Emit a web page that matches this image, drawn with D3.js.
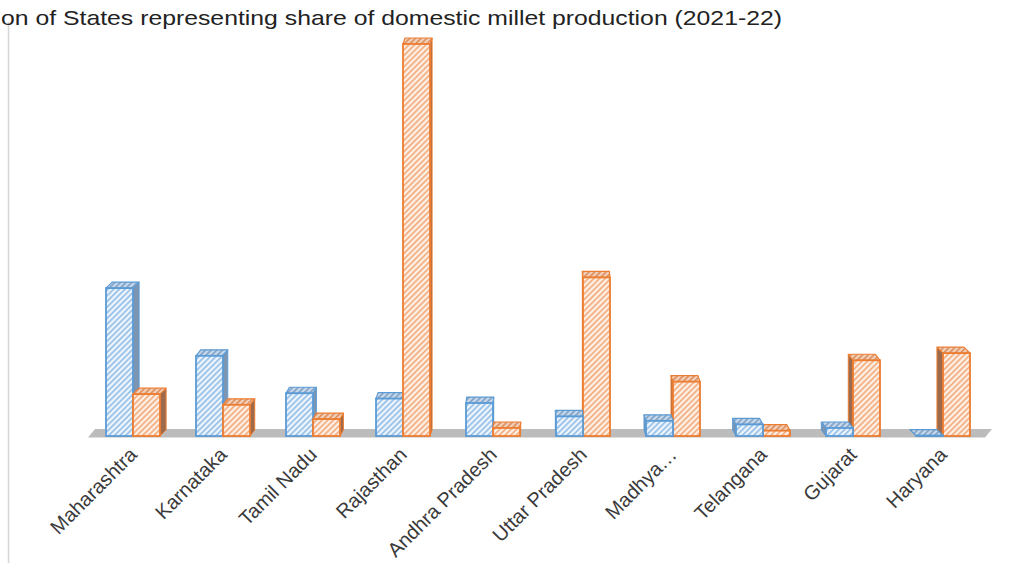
<!DOCTYPE html>
<html>
<head>
<meta charset="utf-8">
<script src="https://cdn.jsdelivr.net/npm/d3@7"></script>
<style>
  body { margin: 0; background: #fff; }
  svg { display: block; }
  .lbl { font-family: "Liberation Sans", Arial, sans-serif; font-size: 20px; fill: #3a3a3a; }
  .title { font-family: "Liberation Sans", Arial, sans-serif; font-size: 21px; fill: #222; }
</style>
</head>
<body>
<div id="chart"></div>
<script>
// share of domestic millet production (%)
const states = ["Maharashtra", "Karnataka", "Tamil Nadu", "Rajasthan", "Andhra Pradesh",
    "Uttar Pradesh", "Madhya…", "Telangana", "Gujarat", "Haryana"];
const seriesBlue = [16.6, 9.0, 4.8, 4.2, 3.7, 2.2, 1.7, 1.3, 0.9, 0.05];
const seriesOrange = [4.7, 3.5, 1.9, 44, 0.9, 17.8, 6.1, 0.6, 8.5, 9.3];
const seriesKeys = ["blue", "orange"];

const W = 1011, H = 563;
const svg = d3.select("#chart").append("svg")
    .attr("width", W)
    .attr("height", H);

// hatch patterns
let defs = svg.append("defs");
function hatch(id, bg, stripe) {
    let p = defs.append("pattern")
        .attr("id", id)
        .attr("patternUnits", "userSpaceOnUse")
        .attr("width", 4).attr("height", 4)
        .attr("patternTransform", "rotate(45)");
    p.append("rect").attr("width", 4).attr("height", 4).attr("fill", bg);
    p.append("rect").attr("width", 1.6).attr("height", 4).attr("fill", stripe);
}
hatch("hb", "#eef5fc", "#8fbbe6");
hatch("ho", "#fdf0e6", "#f2a877");
hatch("hbTop", "#c9d9ea", "#7a9ec4");
hatch("hoTop", "#f2d2bd", "#d98a58");

const colors = {
    blue: { stroke: "#5b9bd5", front: "url(#hb)", top: "url(#hbTop)", side: "#7d95b0" },
    orange: { stroke: "#ed7d31", front: "url(#ho)", top: "url(#hoTop)", side: "#9c6a4c" }
};

// frame remains
svg.append("line")
    .attr("x1", 8.5).attr("x2", 8.5).attr("y1", 22).attr("y2", H)
    .attr("stroke", "#d6d6d6").attr("stroke-width", 1.5);

// title (cut off on the left in the source)
svg.append("text")
    .attr("class", "title")
    .attr("x", 1).attr("y", 25)
    .attr("textLength", 781)
    .attr("lengthAdjust", "spacingAndGlyphs")
    .text("on of States representing share of domestic millet production (2021-22)");

// scales
let x = d3.scaleBand()
    .domain(states)
    .range([88, 988]);

let xInner = d3.scaleBand()
    .domain(seriesKeys)
    .range([x.bandwidth() / 2 - 27, x.bandwidth() / 2 + 27]);

let y = d3.scaleLinear()
    .domain([0, 44])
    .range([436, 44]);

// floor
let base = y(0);
svg.append("polygon")
    .attr("points", [[88, base + 1.5], [985, base + 1.5], [992, base - 7], [95, base - 7]].join(" "))
    .attr("fill", "#bcbcbc");

let data = states.map((s, i) => ({
    state: s,
    values: [
        { key: "blue", value: seriesBlue[i] },
        { key: "orange", value: seriesOrange[i] }
    ]
}));

let depthY = -6;
let vanishX = 540;

data.forEach(d => {
    let cx = x(d.state) + x.bandwidth() / 2;
    let dx = -(cx - vanishX) * 0.015;
    let g = svg.append("g");
    let order = dx >= 0 ? d.values : d.values.slice().reverse();

    order.forEach(v => {
        let c = colors[v.key];
        let x0 = x(d.state) + xInner(v.key);
        let x1 = x0 + xInner.bandwidth();
        let yt = y(v.value);
        let yb = y(0);

        // side face
        let sx = dx >= 0 ? x1 : x0;
        g.append("polygon")
            .attr("points", [[sx, yt], [sx + dx, yt + depthY], [sx + dx, yb + depthY], [sx, yb]].join(" "))
            .attr("fill", c.side)
            .attr("stroke", c.stroke)
            .attr("stroke-width", 1)
            .attr("stroke-linejoin", "round");

        // top face
        g.append("polygon")
            .attr("points", [[x0, yt], [x1, yt], [x1 + dx, yt + depthY], [x0 + dx, yt + depthY]].join(" "))
            .attr("fill", c.top)
            .attr("stroke", c.stroke)
            .attr("stroke-width", 1.2)
            .attr("stroke-linejoin", "round");

        // front face
        g.append("rect")
            .attr("x", x0)
            .attr("y", yt)
            .attr("width", x1 - x0)
            .attr("height", Math.max(0.5, yb - yt))
            .attr("fill", c.front)
            .attr("stroke", c.stroke)
            .attr("stroke-width", 1.8);
    });
});

// category labels
svg.append("g").selectAll("text")
    .data(states)
    .enter()
    .append("text")
    .attr("class", "lbl")
    .attr("text-anchor", "end")
    .attr("transform", d => "translate(" + (x(d) + x.bandwidth() / 2 + 5) + "," + (base + 20) + ") rotate(-45)")
    .text(d => d);
</script>
</body>
</html>
